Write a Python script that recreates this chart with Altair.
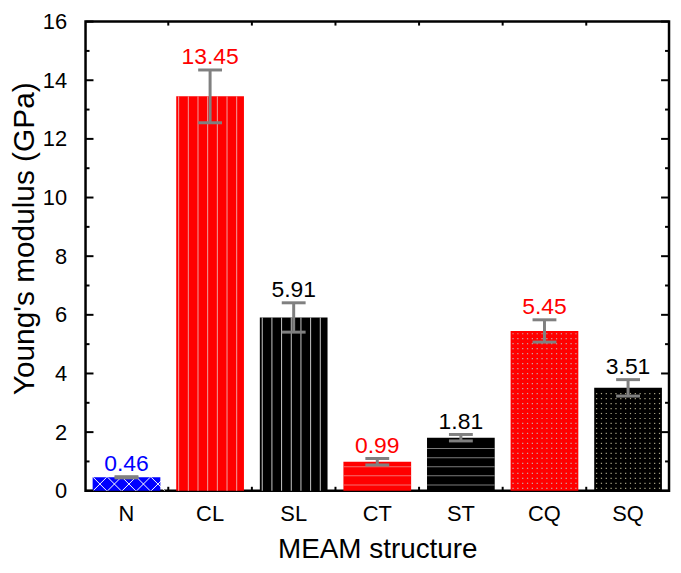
import altair as alt
import pandas as pd

# ---- data ----
categories = ["N", "CL", "SL", "CT", "ST", "CQ", "SQ"]
values = [0.46, 13.45, 5.91, 0.99, 1.81, 5.45, 3.51]
errors = [0.02, 0.90, 0.50, 0.11, 0.11, 0.38, 0.28]
value_labels = ["0.46", "13.45", "5.91", "0.99", "1.81", "5.45", "3.51"]
fill_colors = ["#0000ff", "#ff0000", "#000000", "#ff0000", "#000000", "#ff0000", "#000000"]
label_colors = ["#0000ff", "#ff0000", "#000000", "#ff0000", "#000000", "#ff0000", "#000000"]
patterns = ["cross", "vline", "vline", "hline", "hline", "dots", "dots"]
pattern_colors = ["#ffffff", "#f0a0a0", "#c8c8c8", "#f0a0a0", "#b0b0b0", "#c8a8a8", "#a8a488"]
y_major = [0, 2, 4, 6, 8, 10, 12, 14, 16]
y_minor = [1, 3, 5, 7, 9, 11, 13, 15]

FONT = "Liberation Sans"
W, H = 587, 472

df = pd.DataFrame({
    "cat": categories,
    "value": values,
    "lo": [v - e for v, e in zip(values, errors)],
    "hi": [v + e for v, e in zip(values, errors)],
    "label": value_labels,
    "fill": fill_colors,
    "lcolor": label_colors,
})

# ---- pattern decoration rows (fill texture only) ----
N_SUB = 14
vrows, hrows, drows, xrows = [], [], [], []
for c, v, p, pc in zip(categories, values, patterns, pattern_colors):
    if p == "vline":
        for k in range(0, N_SUB, 2):
            vrows.append({"cat": c, "k": k, "top": v, "pc": pc})
    elif p == "hline":
        y = 0.2
        while y < v - 0.08:
            hrows.append({"cat": c, "y": y, "pc": pc})
            y += 0.31
    elif p == "dots":
        for k in range(N_SUB):
            y = 0.085
            while y < v - 0.05:
                drows.append({"cat": c, "k": k, "y": y, "pc": pc})
                y += 0.17
    elif p == "cross":
        for k in range(1, N_SUB, 3):
            xrows.append({"cat": c, "k": k, "y": v / 2, "pc": pc})

xscale = alt.Scale(domain=categories, paddingInner=0.19, paddingOuter=0.085)
yscale = alt.Scale(domain=[0, 16], nice=False, zero=True)
offscale = alt.Scale(domain=list(range(N_SUB)), paddingInner=0, paddingOuter=0)

x_main = alt.X("cat:N", scale=xscale, title="MEAM structure",
               axis=alt.Axis(labelFontSize=22, labelFont=FONT, labelColor="black",
                             titleFontSize=28, titleFont=FONT, titleFontWeight="normal",
                             titleColor="black", labelPadding=13, titlePadding=11,
                             ticks=False, domain=False, labelAngle=0))
y_main = alt.Y("value:Q", scale=yscale, title="Young's modulus (GPa)",
               axis=alt.Axis(values=y_major, labelFontSize=22, labelFont=FONT,
                             labelColor="black", titleFontSize=30, titleFont=FONT,
                             titleFontWeight="normal", titleColor="black",
                             labelPadding=19, titlePadding=3, titleY=218, ticks=False,
                             domain=False, grid=False))

bars = alt.Chart(df).mark_bar().encode(
    x=x_main, y=y_main, color=alt.Color("fill:N", scale=None))

xs = alt.X("cat:N", scale=xscale)

vlines = alt.Chart(pd.DataFrame(vrows)).mark_rule(strokeWidth=1).encode(
    x=xs, xOffset=alt.XOffset("k:O", scale=offscale),
    y=alt.Y("top:Q", scale=yscale), y2=alt.datum(0),
    color=alt.Color("pc:N", scale=None))

hlines = alt.Chart(pd.DataFrame(hrows)).mark_tick(thickness=1, size=68).encode(
    x=xs, y=alt.Y("y:Q", scale=yscale), color=alt.Color("pc:N", scale=None))

dots = alt.Chart(pd.DataFrame(drows)).mark_square(size=1.5, opacity=1).encode(
    x=xs, xOffset=alt.XOffset("k:O", scale=offscale),
    y=alt.Y("y:Q", scale=yscale), color=alt.Color("pc:N", scale=None))

crosses = alt.Chart(pd.DataFrame(xrows)).mark_point(
    shape="M-1,-1L1,1M1,-1L-1,1", size=180, filled=False, strokeWidth=1, opacity=1).encode(
    x=xs, xOffset=alt.XOffset("k:O", scale=offscale),
    y=alt.Y("y:Q", scale=yscale), color=alt.Color("pc:N", scale=None))

err_rule = alt.Chart(df).mark_rule(color="#808080", strokeWidth=3).encode(
    x=xs, y=alt.Y("lo:Q", scale=yscale), y2="hi:Q")
cap_hi = alt.Chart(df).mark_tick(color="#808080", thickness=3, size=24, opacity=1).encode(
    x=xs, y=alt.Y("hi:Q", scale=yscale))
cap_lo = alt.Chart(df).mark_tick(color="#808080", thickness=3, size=24, opacity=1).encode(
    x=xs, y=alt.Y("lo:Q", scale=yscale))

texts = alt.Chart(df).mark_text(font=FONT, fontSize=23, baseline="alphabetic", dy=-6).encode(
    x=xs, y=alt.Y("hi:Q", scale=yscale), text="label:N",
    color=alt.Color("lcolor:N", scale=None))

# inward ticks
maj = pd.DataFrame({"t": y_major})
mnr = pd.DataFrame({"t": y_minor})
tl_major = alt.Chart(maj).mark_rule(color="black", strokeWidth=2).encode(
    y=alt.Y("t:Q", scale=yscale), x=alt.value(0), x2=alt.value(8))
tl_minor = alt.Chart(mnr).mark_rule(color="black", strokeWidth=2).encode(
    y=alt.Y("t:Q", scale=yscale), x=alt.value(0), x2=alt.value(4))
tr_major = alt.Chart(maj).mark_rule(color="black", strokeWidth=2).encode(
    y=alt.Y("t:Q", scale=yscale), x=alt.value(W - 8), x2=alt.value(W))
tr_minor = alt.Chart(mnr).mark_rule(color="black", strokeWidth=2).encode(
    y=alt.Y("t:Q", scale=yscale), x=alt.value(W - 4), x2=alt.value(W))

bnd = pd.DataFrame({"cat": categories[1:]})
tb = alt.Chart(bnd).mark_rule(color="black", strokeWidth=2, xOffset=-8).encode(
    x=alt.X("cat:N", scale=xscale, bandPosition=0), y=alt.value(H), y2=alt.value(H - 4))
tt = alt.Chart(bnd).mark_rule(color="black", strokeWidth=2, xOffset=-8).encode(
    x=alt.X("cat:N", scale=xscale, bandPosition=0), y=alt.value(0), y2=alt.value(4))

chart = alt.layer(
    bars, vlines, hlines, dots, crosses, err_rule, cap_hi, cap_lo, texts,
    tl_major, tl_minor, tr_major, tr_minor, tb, tt
).properties(
    width=W, height=H,
    padding={"left": 78, "top": 12, "right": 4, "bottom": 73},
    autosize=alt.AutoSizeParams(type="none"),
    background="white",
).configure_view(
    stroke="black", strokeWidth=2.5
)

chart.save("out.html", embed_options={"renderer": "svg", "actions": False})
